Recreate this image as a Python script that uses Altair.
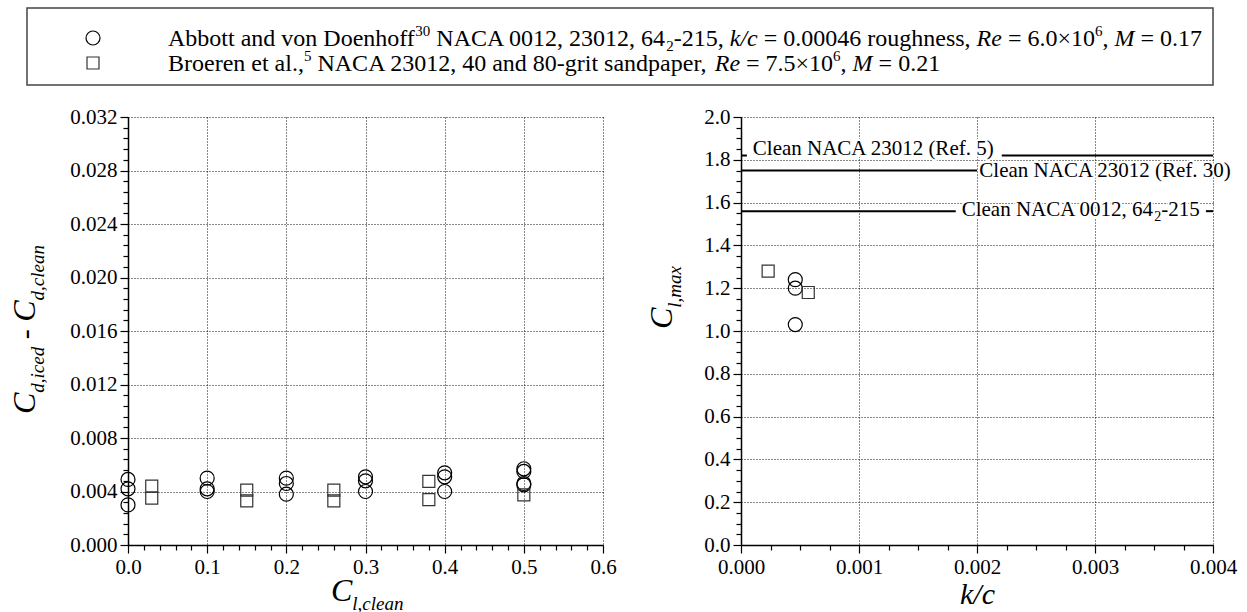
import altair as alt
import pandas as pd

FONT = "'Liberation Serif', 'Times New Roman', Times, 'DejaVu Serif', serif"

# ---------------- data ----------------
# Left panel: drag increment vs clean lift coefficient
abbott_cl = [0.0, 0.0, 0.0, 0.1, 0.1, 0.1, 0.2, 0.2, 0.2, 0.3, 0.3, 0.3,
             0.4, 0.4, 0.4, 0.5, 0.5, 0.5, 0.5]
abbott_dcd = [0.0049, 0.0042, 0.0030, 0.0050, 0.0042, 0.0040, 0.0050, 0.0046, 0.0038,
              0.0051, 0.0048, 0.0040, 0.0054, 0.0051, 0.0040, 0.0057, 0.0055, 0.0046, 0.0045]
broeren_cl = [0.03, 0.03, 0.15, 0.15, 0.26, 0.26, 0.38, 0.38, 0.5]
broeren_dcd = [0.0044, 0.0035, 0.0041, 0.0033, 0.0041, 0.0033, 0.00475, 0.0034, 0.00375]

# Right panel: Cl,max vs k/c
abbott_kc = [0.00046, 0.00046, 0.00046]
abbott_clmax = [1.24, 1.20, 1.03]
broeren_kc = [0.00023, 0.00057]
broeren_clmax = [1.28, 1.18]

# Clean reference levels (line segments as seen, interrupted by their labels)
seg_clmax = [1.82, 1.82, 1.75, 1.56, 1.56]
seg_kc_start = [0.0, 0.00221, 0.0, 0.0, 0.00394]
seg_kc_end = [0.00005, 0.004, 0.002, 0.00182, 0.004]

clean_label_pieces = [
    [("Clean NACA 23012 (Ref. 5)", "r")],
    [("Clean NACA 23012 (Ref. 30)", "r")],
    [("Clean NACA 0012, 64", "r"), ("2", "sub"), ("-215", "r")],
]
clean_label_kc = [0.0001, 0.00202, 0.00187]
clean_label_clmax = [1.822, 1.718, 1.537]

legend_rows = [
    [("Abbott and von Doenhoff", "r"), ("30", "sup"), (" NACA 0012, 23012, 64", "r"), ("2", "sub"),
     ("-215, ", "r"), ("k/c", "i"), (" = 0.00046 roughness, ", "r"), ("Re", "i"),
     (" = 6.0\u00d710", "r"), ("6", "sup"), (", ", "r"), ("M", "i"), (" = 0.17", "r")],
    [("Broeren et al.,", "r"), ("5", "sup"), (" NACA 23012, 40 and 80-grit sandpaper, ", "r"),
     ("Re", "i"), (" = 7.5\u00d710", "r"), ("6", "sup"), (", ", "r"), ("M", "i"), (" = 0.21", "r")],
]
legend_shapes = ["circle", "square"]

left_ytitle = [("C", "C"), ("d,iced", "s"), (" - ", "m"), ("C", "C"), ("d,clean", "s")]
left_xtitle = [("C", "C"), ("l,clean", "s")]
right_ytitle = [("C", "C"), ("l,max", "s")]
right_xtitle = [("k/c", "K")]

# ---------------- text metrics (Times-compatible) ----------------
ROMAN = {" ": 250, ",": 250, "-": 333, ".": 250, "/": 278, "=": 564, "\u00d7": 564, "(": 333, ")": 333,
         "A": 722, "B": 667, "C": 667, "D": 722, "M": 889, "N": 722, "R": 667,
         "a": 444, "b": 500, "c": 444, "d": 500, "e": 444, "f": 333, "g": 500, "h": 500,
         "i": 278, "k": 500, "l": 278, "m": 778, "n": 500, "o": 500, "p": 500, "r": 333,
         "s": 389, "t": 278, "u": 500, "v": 500, "x": 500}
for _d in "0123456789":
    ROMAN[_d] = 500
ITALIC = {" ": 250, ",": 250, "-": 333, "/": 278, "C": 667, "M": 833, "R": 611,
          "a": 500, "c": 444, "d": 500, "e": 444, "i": 278, "k": 444, "l": 278,
          "m": 722, "n": 500, "x": 444}


def tw(s, size, italic=False):
    tbl = ITALIC if italic else ROMAN
    return sum(tbl.get(ch, 500) for ch in s) * size / 1000.0


one = pd.DataFrame({"k": [0]})


def rich(pieces, x0, y0, styles, angle=0):
    """Lay out mixed-style text pieces starting at pixel (x0, y0) (baseline)."""
    out = []
    pos = 0.0
    for s, st in pieces:
        size, italic, shift = styles[st]
        lead = len(s) - len(s.lstrip(" "))
        body = s.strip(" ")
        off = pos + tw(s[:lead], size, italic)
        if body:
            if angle == 0:
                x, y = x0 + off, y0 + shift
            else:
                x, y = x0 + shift, y0 - off
            out.append(
                alt.Chart(one).mark_text(
                    text=body, font=FONT, fontSize=size,
                    fontStyle="italic" if italic else "normal",
                    align="left", baseline="alphabetic", angle=angle, color="black",
                ).encode(x=alt.value(x), y=alt.value(y))
            )
        pos += tw(s, size, italic)
    return out


TITLE_STYLES = {"C": (32, True, 0), "s": (19, True, 9), "m": (30, False, 0), "K": (30, True, 0)}
LEG_STYLES = {"r": (24, False, 0), "i": (24, True, 0), "sup": (15, False, -10), "sub": (15, False, 5)}
LAB_STYLES = {"r": (21, False, 0), "sub": (14, False, 5)}

LW, LH = 475, 428   # left plot area
RW, RH = 472, 428   # right plot area


def make_axis(values, test, fmt):
    return alt.Axis(
        values=values,
        labelExpr=f"({test}) ? format(datum.value, '{fmt}') : ''",
        tickSize={"condition": {"test": test, "value": 8}, "value": 5},
        gridOpacity={"condition": {"test": test, "value": 1}, "value": 0},
        grid=True, gridColor="#111111", gridDash=[1, 2], gridWidth=1,
        domainColor="black", domainWidth=1.5, tickColor="black", tickWidth=1.2,
        labelFont=FONT, labelFontSize=21, labelColor="black", labelPadding=3,
        labelFlush=False, labelOverlap=False, title=None,
    )


# ---------------- left panel ----------------
lx_vals = [round(i * 0.02, 4) for i in range(31)]
ly_vals = [round(i * 0.0008, 5) for i in range(41)]
lx_axis = make_axis(lx_vals, "abs(datum.value*10 - round(datum.value*10)) < 0.001", ".1f")
ly_axis = make_axis(ly_vals, "abs(datum.value*250 - round(datum.value*250)) < 0.001", ".3f")
lx_scale = alt.Scale(domain=[0, 0.6], nice=False, zero=False)
ly_scale = alt.Scale(domain=[0, 0.032], nice=False, zero=False)

df_la = pd.DataFrame({"x": abbott_cl, "y": abbott_dcd})
df_lb = pd.DataFrame({"x": broeren_cl, "y": broeren_dcd})

left_layers = [
    alt.Chart(df_la).mark_point(shape="circle", filled=False, size=196, color="black",
                                strokeWidth=1.2, opacity=1).encode(
        x=alt.X("x:Q", scale=lx_scale, axis=lx_axis),
        y=alt.Y("y:Q", scale=ly_scale, axis=ly_axis)),
    alt.Chart(df_lb).mark_point(shape="square", filled=False, size=144, color="#333333",
                                strokeWidth=1.2, opacity=1).encode(
        x=alt.X("x:Q", scale=lx_scale, axis=lx_axis),
        y=alt.Y("y:Q", scale=ly_scale, axis=ly_axis)),
]
left_layers += rich(left_ytitle, -93, 297, TITLE_STYLES, angle=270)
left_layers += rich(left_xtitle, 203, 484, TITLE_STYLES)
left = alt.layer(*left_layers).properties(width=LW, height=LH)

# ---------------- right panel ----------------
rx_vals = [round(i * 0.00025, 6) for i in range(17)]
ry_vals = [round(i * 0.05, 3) for i in range(41)]
rx_axis = make_axis(rx_vals, "abs(datum.value*1000 - round(datum.value*1000)) < 0.001", ".3f")
ry_axis = make_axis(ry_vals, "abs(datum.value*5 - round(datum.value*5)) < 0.001", ".1f")
rx_scale = alt.Scale(domain=[0, 0.004], nice=False, zero=False)
ry_scale = alt.Scale(domain=[0, 2.0], nice=False, zero=False)

df_ra = pd.DataFrame({"x": abbott_kc, "y": abbott_clmax})
df_rb = pd.DataFrame({"x": broeren_kc, "y": broeren_clmax})
df_seg = pd.DataFrame({"x": seg_kc_start, "x2": seg_kc_end, "y": seg_clmax})

halo_layers, text_layers = [], []
for pieces, kx, cy in zip(clean_label_pieces, clean_label_kc, clean_label_clmax):
    dfl = pd.DataFrame({"x": [kx], "y": [cy]})
    pos = 0.0
    for s, st in pieces:
        size, italic, shift = LAB_STYLES[st]
        for halo in (True, False):
            layer = alt.Chart(dfl).mark_text(
                text=s, font=FONT, fontSize=size, align="left", baseline="alphabetic",
                dx=pos, dy=shift, color="white" if halo else "black",
                **({"stroke": "white", "strokeWidth": 4} if halo else {}),
            ).encode(x=alt.X("x:Q", scale=rx_scale, axis=rx_axis),
                     y=alt.Y("y:Q", scale=ry_scale, axis=ry_axis))
            (halo_layers if halo else text_layers).append(layer)
        pos += tw(s, size, italic)

right_layers = halo_layers + [
    alt.Chart(df_seg).mark_rule(color="black", strokeWidth=2).encode(
        x=alt.X("x:Q", scale=rx_scale, axis=rx_axis), x2="x2:Q",
        y=alt.Y("y:Q", scale=ry_scale, axis=ry_axis)),
] + text_layers + [
    alt.Chart(df_ra).mark_point(shape="circle", filled=False, size=196, color="black",
                                strokeWidth=1.2, opacity=1).encode(
        x=alt.X("x:Q", scale=rx_scale, axis=rx_axis),
        y=alt.Y("y:Q", scale=ry_scale, axis=ry_axis)),
    alt.Chart(df_rb).mark_point(shape="square", filled=False, size=144, color="#333333",
                                strokeWidth=1.2, opacity=1).encode(
        x=alt.X("x:Q", scale=rx_scale, axis=rx_axis),
        y=alt.Y("y:Q", scale=ry_scale, axis=ry_axis)),
]
right_layers += rich(right_ytitle, -69, 212, TITLE_STYLES, angle=270)
right_layers += rich(right_xtitle, 219, 487, TITLE_STYLES)
right = alt.layer(*right_layers).properties(width=RW, height=RH)

# ---------------- legend box ----------------
LEG_H = 77
leg_layers = [
    alt.Chart(one).mark_rect(fill="white", stroke="#444444", strokeWidth=1.5).encode(
        x=alt.value(-101), x2=alt.value(1085), y=alt.value(0), y2=alt.value(LEG_H)),
    alt.Chart(one).mark_rule(opacity=0).encode(
        x=alt.value(-124), y=alt.value(0), y2=alt.value(2)),
]
row_y = [30, 55]
for shape, ry, row in zip(legend_shapes, row_y, legend_rows):
    leg_layers.append(
        alt.Chart(one).mark_point(shape=shape, filled=False,
                                  size=196 if shape == "circle" else 144,
                                  color="black" if shape == "circle" else "#333333",
                                  strokeWidth=1.2, opacity=1).encode(
            x=alt.value(-35), y=alt.value(ry)))
    leg_layers += rich(row, 40, ry + 8, LEG_STYLES)
legend = alt.layer(*leg_layers).properties(width=1085, height=LEG_H)

chart = alt.vconcat(
    legend,
    alt.hconcat(left, right, spacing=138, bounds="flush"),
    spacing=32, bounds="flush",
).properties(
    padding={"left": 4, "top": 7, "right": 5, "bottom": 0},
    background="white",
).configure_view(stroke=None)

chart.save("out.html", embed_options={"renderer": "svg", "actions": False})
